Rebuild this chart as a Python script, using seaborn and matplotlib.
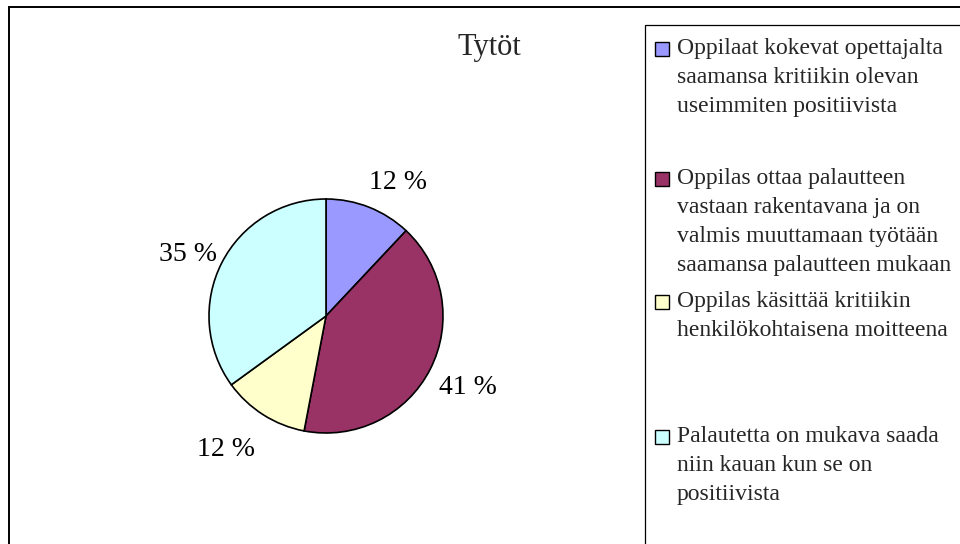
import matplotlib
matplotlib.use('Agg')
import matplotlib.pyplot as plt
from matplotlib.patches import Rectangle
import seaborn as sns

# data
categories = [
    'Oppilaat kokevat opettajalta\nsaamansa kritiikin olevan\nuseimmiten positiivista',
    'Oppilas ottaa palautteen\nvastaan rakentavana ja on\nvalmis muuttamaan työtään\nsaamansa palautteen mukaan',
    'Oppilas käsittää kritiikin\nhenkilökohtaisena moitteena',
    'Palautetta on mukava saada\nniin kauan kun se on\npositiivista',
]
values = [12, 41, 12, 35]
colors = ['#9999FF', '#993366', '#FFFFCC', '#CCFFFF']
title = 'Tytöt'

sns.set_theme(style='white')
plt.rcParams['font.family'] = ['Liberation Serif', 'DejaVu Serif']

W, H = 960, 544
fig = plt.figure(figsize=(W / 100, H / 100), dpi=100)

# pie axes: centre (326, 316) px, radius 117 px, pie limits +-1.25
cx, cy, r = 326, 316, 117
half = 1.25 * r
ax = fig.add_axes([(cx - half) / W, (H - cy - half) / H, 2 * half / W, 2 * half / H])
wedges, texts, autotexts = ax.pie(
    values, colors=colors, startangle=90, counterclock=False,
    autopct=lambda p: '%.0f %%' % p, pctdistance=1.33,
    wedgeprops=dict(edgecolor='black', linewidth=1.2),
    textprops=dict(fontsize=20, color='black'))
ax.set_xlim(-1.25, 1.25)
ax.set_ylim(-1.25, 1.25)

# small nudges so the labels sit like the reference (pixels: right, down)
nudges = [(15, 11), (3, 1), (-17, 2), (1, 9)]
for t, (dx, dy) in zip(autotexts, nudges):
    x, y = t.get_position()
    t.set_position((x + dx / r, y - dy / r))

fig.text(489 / W, 1 - 48 / H, title, fontsize=22, ha='center', va='center')

# outer chart border and legend box (both run past the image edge)
fig.patches.append(Rectangle((9 / W, -0.1), 1.2, 1 - 7 / H + 0.1, transform=fig.transFigure,
                             fill=False, edgecolor='black', linewidth=1.4))
fig.patches.append(Rectangle((645 / W, -0.1), 1.2, 1 - 25 / H + 0.1, transform=fig.transFigure,
                             fill=False, edgecolor='black', linewidth=0.9))

# legend entries
baselines = [55, 185, 308, 443]
for lab, col, yb in zip(categories, colors, baselines):
    fig.patches.append(Rectangle((655 / W, 1 - (yb - 6 + 7) / H), 14 / W, 14 / H,
                                 transform=fig.transFigure, facecolor=col,
                                 edgecolor='black', linewidth=1.0))
    fig.text(677 / W, 1 - (yb - 17) / H, lab, fontsize=17, ha='left', va='top',
             linespacing=1.5)

plt.savefig('out.png', dpi=100)
